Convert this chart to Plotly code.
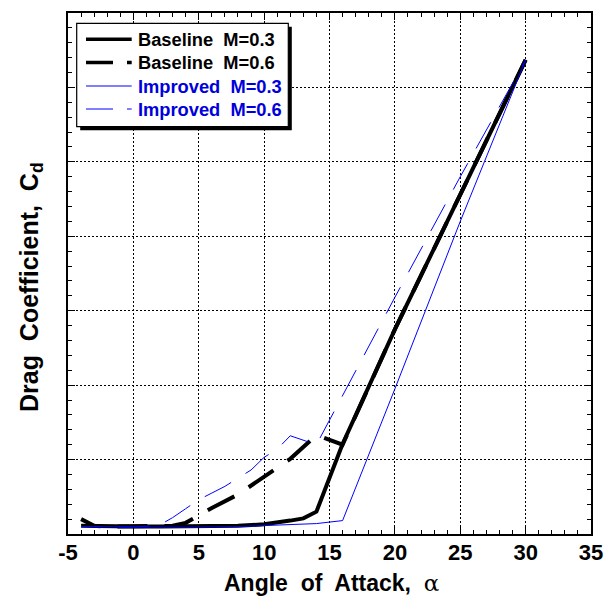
import plotly.graph_objects as go

# Drag coefficient vs angle of attack, baseline and improved sections
alpha_base_03 = [-4, -2, 0, 2, 4, 6, 8, 10, 11, 12, 13, 14, 16, 20, 25, 30]
cd_base_03 = [0.011, 0.010, 0.010, 0.010, 0.010, 0.010, 0.011, 0.013, 0.015,
              0.018, 0.021, 0.030, 0.121, 0.275, 0.456, 0.637]

alpha_base_06 = [-4, -3, -2, 0, 2, 3, 4, 5, 6, 8, 10, 12, 14, 16, 20, 25, 30]
cd_base_06 = [0.020, 0.011, 0.010, 0.010, 0.010, 0.011, 0.015, 0.025, 0.035,
              0.053, 0.077, 0.101, 0.133, 0.120, 0.275, 0.456, 0.637]

alpha_impr_03 = [-4, 0, 4, 8, 10, 12, 14, 16, 20, 25, 30]
cd_impr_03 = [0.010, 0.009, 0.009, 0.010, 0.011, 0.012, 0.014, 0.018, 0.195,
              0.420, 0.637]

alpha_impr_06 = [-4, 0, 2, 3, 4, 5, 6, 7, 8, 9, 10, 11, 12, 14, 20, 25, 30]
cd_impr_06 = [0.010, 0.009, 0.012, 0.022, 0.034, 0.046, 0.055, 0.064, 0.075,
              0.086, 0.103, 0.114, 0.132, 0.120, 0.318, 0.480, 0.637]

x_tick_values = [-5, 0, 5, 10, 15, 20, 25, 30, 35]
x_tick_labels = ["-5", "0", "5", "10", "15", "20", "25", "30", "35"]

legend_labels = ["Baseline  M=0.3", "Baseline  M=0.6",
                 "Improved  M=0.3", "Improved  M=0.6"]

BLACK = "#000000"
BLUE = "#0000ff"
BLUE_TEXT = "#0000dd"
FONT = "Liberation Sans, Arial, sans-serif"

# long-dash pattern: shorter leading dash, then 30px dashes with 17px gaps
LONG_DASH = "21px,17px," + ",".join(["30px,17px"] * 40)

# plot-area geometry in pixels
FIG_W, FIG_H = 605, 598
L, R, T, B = 68, 14, 13, 64
PW, PH = FIG_W - L - R, FIG_H - T - B


def fx(p):
    return (p - L) / PW


def fy(p):
    return 1 - (p - T) / PH


fig = go.Figure()

fig.add_trace(go.Scatter(x=alpha_base_03, y=cd_base_03, mode="lines",
                         line=dict(color=BLACK, width=4), name=legend_labels[0]))
fig.add_trace(go.Scatter(x=alpha_base_06, y=cd_base_06, mode="lines",
                         line=dict(color=BLACK, width=4, dash=LONG_DASH),
                         name=legend_labels[1]))
fig.add_trace(go.Scatter(x=alpha_impr_03, y=cd_impr_03, mode="lines",
                         line=dict(color=BLUE, width=1), name=legend_labels[2]))
fig.add_trace(go.Scatter(x=alpha_impr_06, y=cd_impr_06, mode="lines",
                         line=dict(color=BLUE, width=1, dash=LONG_DASH),
                         name=legend_labels[3]))

axis_common = dict(
    showline=True, linecolor=BLACK, linewidth=1.5, mirror="allticks",
    ticks="inside", ticklen=7, tickwidth=1.2, tickcolor=BLACK,
    showgrid=True, gridcolor=BLACK, gridwidth=1, griddash="2px,2px",
    zeroline=False,
)

fig.update_xaxes(
    range=[-5, 35], tickmode="array", tickvals=x_tick_values,
    ticktext=x_tick_labels, ticklabelstandoff=-2,
    tickfont=dict(family=FONT, size=22, color=BLACK, weight="bold"),
    minor=dict(dtick=1, tick0=0, ticks="inside", ticklen=4, tickcolor=BLACK,
               tickwidth=1, showgrid=False),
    **axis_common,
)
fig.update_yaxes(
    range=[0, 0.7], dtick=0.1, tick0=0, showticklabels=False,
    minor=dict(dtick=0.02, ticks="inside", ticklen=4, tickcolor=BLACK,
               tickwidth=1, showgrid=False),
    **axis_common,
)

shapes = []
annotations = []

# legend box with drop shadow
bx0, by0, bx1, by1 = 76.7, 23.3, 288.3, 126.7
shapes.append(dict(type="rect", xref="paper", yref="paper",
                   x0=fx(bx0 + 3.5), x1=fx(bx1 + 3.5),
                   y0=fy(by1 + 3.5), y1=fy(by0 + 3.5),
                   fillcolor=BLACK, line=dict(width=0), layer="above"))
shapes.append(dict(type="rect", xref="paper", yref="paper",
                   x0=fx(bx0), x1=fx(bx1), y0=fy(by1), y1=fy(by0),
                   fillcolor="white", line=dict(color=BLACK, width=1.2),
                   layer="above"))

legend_styles = [
    (BLACK, 3.5, "solid", BLACK),
    (BLACK, 3.5, "27px,14px,30px,17px", BLACK),
    (BLUE, 1, "solid", BLUE_TEXT),
    (BLUE, 1, "27px,14px,30px,17px", BLUE_TEXT),
]
row_y = [39.3, 62.5, 86, 109]
for (lc, lw, dash, tc), ry, label in zip(legend_styles, row_y, legend_labels):
    shapes.append(dict(type="line", xref="paper", yref="paper",
                       x0=fx(86), x1=fx(131.7), y0=fy(ry), y1=fy(ry),
                       line=dict(color=lc, width=lw, dash=dash), layer="above"))
    annotations.append(dict(xref="paper", yref="paper", x=fx(136), y=fy(ry),
                            xanchor="left", yanchor="middle", showarrow=False,
                            text=label,
                            font=dict(family=FONT, size=18.3, color=tc,
                                      weight="bold")))

# axis titles
annotations.append(dict(
    xref="paper", yref="paper", x=fx(331.5), y=fy(583), xanchor="center",
    yanchor="middle", showarrow=False,
    text="Angle  of  Attack,  <span style=\"font-weight:normal;"
         "font-family:'DejaVu Serif'\">α</span>",
    font=dict(family=FONT, size=23, color=BLACK, weight="bold")))
annotations.append(dict(
    xref="paper", yref="paper", x=fx(31), y=fy(287), xanchor="center",
    yanchor="middle", showarrow=False, textangle=-90,
    text="Drag  Coefficient,  C<sub>d</sub>",
    font=dict(family=FONT, size=25, color=BLACK, weight="bold")))

fig.update_layout(
    width=FIG_W, height=FIG_H,
    margin=dict(l=L, r=R, t=T, b=B, autoexpand=False),
    paper_bgcolor="white", plot_bgcolor="white",
    showlegend=False,
    shapes=shapes, annotations=annotations,
)

fig.write_html("out.html")
